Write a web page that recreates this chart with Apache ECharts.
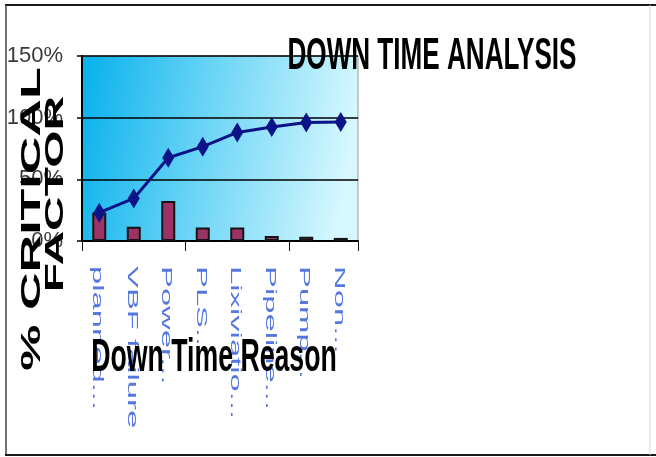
<!DOCTYPE html>
<html>
<head>
<meta charset="utf-8">
<script src="https://cdn.jsdelivr.net/npm/echarts@6/dist/echarts.min.js"></script>
<style>
  html, body { margin: 0; padding: 0; background: #fff; }
  #chart { width: 656px; height: 457px; }
</style>
</head>
<body>
<div id="chart"></div>
<script>
// Down time reasons (category axis)
const categories = ['planned...', 'VBF failure', 'Power...', 'PLS...', 'Lixiviatio...', 'Pipeline...', 'Pump...', 'Non...'];
// Share of total down time per reason (%)
const downTimeShare = [23, 11.5, 32.5, 11, 11, 4, 3.5, 2.5];
// Cumulative share (%)
const cumulativeShare = [23, 34.5, 67.5, 76.5, 88, 92.5, 96, 96.5];
// Value axis ticks (%)
const yMin = 0, yMax = 150, yStep = 50;

const chart = echarts.init(document.getElementById('chart'), null, { renderer: 'canvas' });

const option = {
  animation: false,
  backgroundColor: '#ffffff',
  grid: {
    left: 82, top: 56, width: 276, height: 185,
    containLabel: false,
    outerBoundsMode: 'none',
    show: true,
    borderColor: '#9a9a9a',
    borderWidth: 1,
    backgroundColor: new echarts.graphic.LinearGradient(0, 0, 1, 0.25, [
      { offset: 0, color: '#06b0ec' },
      { offset: 0.45, color: '#66d3f6' },
      { offset: 1, color: '#d6f8fe' }
    ])
  },
  xAxis: {
    type: 'category',
    data: categories,
    axisLine: { lineStyle: { color: '#000', width: 2 } },
    axisTick: { show: true, length: 10, lineStyle: { color: '#111', width: 1 } },
    axisLabel: { show: false }
  },
  yAxis: {
    type: 'value',
    min: yMin, max: yMax, interval: yStep,
    axisLine: { show: true, lineStyle: { color: '#000', width: 2 } },
    axisTick: { show: true, length: 5, lineStyle: { color: '#000', width: 1.5 } },
    splitLine: { show: true, lineStyle: { color: '#000', width: 1.6 } },
    axisLabel: {
      formatter: '{value}%',
      margin: 19,
      fontSize: 22,
      fontFamily: '"Liberation Sans", Arial, sans-serif',
      color: '#3a3a3a'
    }
  },
  series: [
    {
      type: 'bar',
      data: downTimeShare,
      barWidth: 14,
      itemStyle: { color: '#9c3366', borderColor: '#141414', borderWidth: 2 },
      z: 2
    },
    {
      type: 'line',
      data: cumulativeShare,
      symbol: 'diamond',
      symbolSize: [12, 20],
      lineStyle: { color: '#0a1488', width: 3 },
      itemStyle: { color: '#0a1488' },
      z: 3
    },
    {
      // rotated, stretched category labels under the axis
      type: 'custom',
      clip: false,
      silent: true,
      data: categories.map((c, i) => [i, 0]),
      renderItem: function (params, api) {
        const p = api.coord([api.value(0), 0]);
        return {
          type: 'text',
          x: p[0] - 2,
          y: p[1] + 25,
          rotation: -Math.PI / 2,
          scaleX: 2.05,
          scaleY: 0.95,
          style: {
            text: categories[params.dataIndex],
            font: '16px "Liberation Sans", Arial, sans-serif',
            fill: '#5577e0',
            align: 'left',
            verticalAlign: 'middle'
          }
        };
      },
      z: 1
    }
  ],
  graphic: [
    // outer frame
    { type: 'line', shape: { x1: 5, y1: 5, x2: 656, y2: 5 }, style: { stroke: '#1a1a1a', lineWidth: 2 }, z: 100 },
    { type: 'line', shape: { x1: 6, y1: 5, x2: 6, y2: 455 }, style: { stroke: '#444', lineWidth: 1.5 }, z: 100 },
    { type: 'line', shape: { x1: 5, y1: 455, x2: 656, y2: 455 }, style: { stroke: '#1a1a1a', lineWidth: 2 }, z: 100 },
    { type: 'line', shape: { x1: 650, y1: 5, x2: 650, y2: 455 }, style: { stroke: '#d8d8d8', lineWidth: 1 }, z: 100 },
    // chart title
    {
      type: 'text', x: 432, y: 57, scaleX: 0.58, scaleY: 1, z: 100,
      style: { text: 'DOWN TIME ANALYSIS', font: 'bold 45px "Liberation Sans", Arial, sans-serif', fill: '#000', align: 'center', verticalAlign: 'middle' }
    },
    // value axis name, two lines
    {
      type: 'text', x: 32, y: 219, rotation: Math.PI / 2, scaleX: 1, scaleY: 0.54, z: 100,
      style: { text: '% CRITICAL', font: 'bold 52px "Liberation Sans", Arial, sans-serif', fill: '#000', align: 'center', verticalAlign: 'middle' }
    },
    {
      type: 'text', x: 56, y: 194, rotation: Math.PI / 2, scaleX: 1, scaleY: 0.52, z: 100,
      style: { text: 'FACTOR', font: 'bold 48px "Liberation Sans", Arial, sans-serif', fill: '#000', align: 'center', verticalAlign: 'middle' }
    },
    // category axis name
    {
      type: 'text', x: 214, y: 358, scaleX: 0.58, scaleY: 1, z: 100,
      style: { text: 'Down Time Reason', font: 'bold 46px "Liberation Sans", Arial, sans-serif', fill: '#000', align: 'center', verticalAlign: 'middle' }
    }
  ]
};

chart.setOption(option);
</script>
</body>
</html>
